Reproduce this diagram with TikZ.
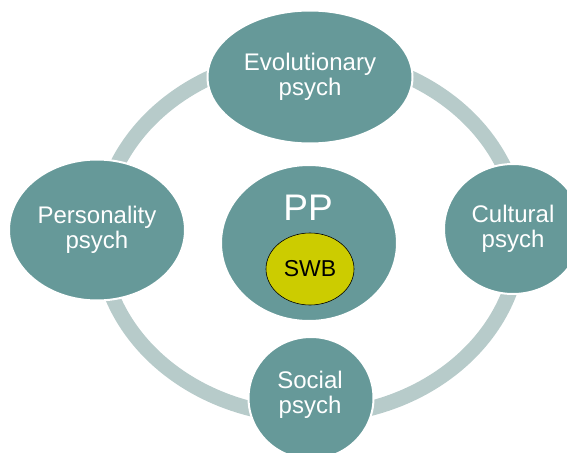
\documentclass[tikz,border=0pt]{standalone}
\usepackage{fontspec}
\setmainfont{Liberation Sans}
\usepackage{xcolor}
\definecolor{nodeteal}{HTML}{669999}
\definecolor{ringgrey}{HTML}{B7CBCA}
\definecolor{swbyellow}{HTML}{CCCC00}
\usetikzlibrary{shapes.geometric,positioning}

\begin{document}
\begin{tikzpicture}[x=1pt, y=-1pt,
    field/.style={ellipse, draw=white, fill=nodeteal, text=white, line width=2pt, inner sep=0pt, align=center, font=\fontsize{24}{25}\selectfont},
  ]
    \useasboundingbox (0,0) rectangle (567,452);
    \clip (0,0) rectangle (567,452);
    % Ring
    \coordinate (hub) at (310,236);
    \draw[ringgrey, line width=15pt] (hub) ellipse [x radius=210pt, y radius=180pt];
    % Fields
    \node[field, minimum width=205pt, minimum height=133pt] (evo) at (310,77) {Evolutionary\\psych};
    \node[field, minimum width=176pt, minimum height=141pt] (pers) at (97,230) {Personality\\psych};
    \node[field, minimum width=138pt, minimum height=130pt] (cult) at (513,229) {Cultural\\psych};
    \node[field, minimum width=125pt, minimum height=122pt] (soc) at (311,398) {};
    \node[text=white, align=center, font=\fontsize{24}{25}\selectfont] (soclabel) at (310,395) {Social\\psych};
    % Centre
    \node[field, minimum width=176pt, minimum height=156pt] (pp) at (309,243) {};
    \node[text=white, font=\fontsize{37}{40}\selectfont] (pplabel) at (308,208) {PP};
    \node[ellipse, draw=black, fill=swbyellow, line width=0.6pt, minimum width=88pt, minimum height=72pt, inner sep=0pt, font=\fontsize{23}{25}\selectfont] (swb) at (310,269) {SWB};
  \end{tikzpicture}
\end{document}
